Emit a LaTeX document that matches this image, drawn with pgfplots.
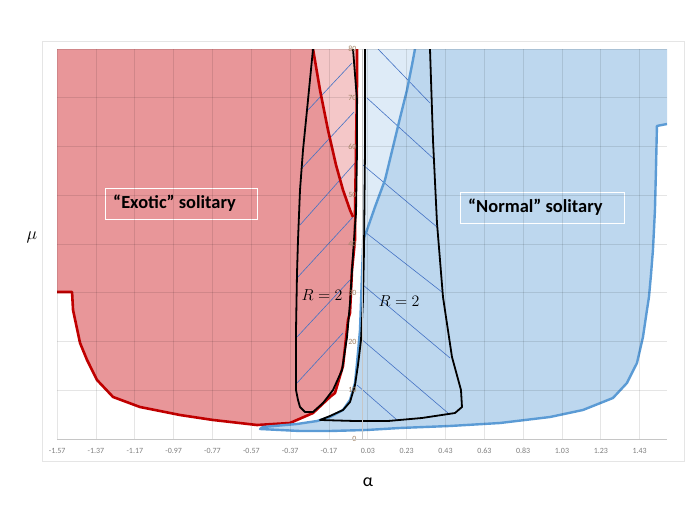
\RequirePackage{fix-cm}
\documentclass[border=0pt]{standalone}
\usepackage{fontspec}
\setmainfont{Carlito}
\usepackage{pgfplots}
\pgfplotsset{compat=1.18}
\definecolor{redfill}{RGB}{232,150,153}
\definecolor{pinkfill}{RGB}{244,199,200}
\definecolor{redline}{RGB}{192,0,0}
\definecolor{bluefill}{RGB}{189,215,238}
\definecolor{lbluefill}{RGB}{222,235,247}
\definecolor{blueline}{RGB}{91,155,213}
\definecolor{hatch}{RGB}{68,114,196}
\definecolor{ytcol}{RGB}{160,130,100}
\definecolor{xtcol}{RGB}{125,125,125}
\begin{document}
\begin{tikzpicture}
\useasboundingbox (0,0) rectangle (700bp,525bp);
\draw[gray!20, line width=0.8bp] (42bp,64bp) rectangle (684bp,484bp);
\begin{axis}[
  at={(57bp,86bp)}, anchor=south west,
  scale only axis, width=610bp, height=390bp,
  xmin=-1.5708, xmax=1.5708, ymin=0, ymax=80,
  enlargelimits=false,
  axis on top,
  axis line style={draw=none},
  major tick length=0pt,
  grid=major,
  grid style={black, opacity=0.10, line width=0.8bp},
  xtick={-1.57,-1.37,-1.17,-0.97,-0.77,-0.57,-0.37,-0.17,0.03,0.23,0.43,0.63,0.83,1.03,1.23,1.43},
  xticklabels={-1.57,-1.37,-1.17,-0.97,-0.77,-0.57,-0.37,-0.17,0.03,0.23,0.43,0.63,0.83,1.03,1.23,1.43},
  ytick={0,10,20,30,40,50,60,70,80},
  /pgf/number format/assume math mode=true,
  xticklabel style={font=\fontsize{8}{9}\selectfont, text=xtcol, yshift=-6bp},
  yticklabel style={font=\fontsize{8}{9}\selectfont, text=ytcol, xshift=303bp},
]
% dark red region
\addplot[fill=redfill, draw=none] coordinates {
 (-1.5708,80) (-1.5708,30.15) (-1.4933,30.15) (-1.4882,26.46) (-1.4521,19.69) (-1.4161,16.21)
 (-1.3646,12.10) (-1.2822,8.62) (-1.1432,6.56) (-0.9372,4.92) (-0.7673,3.90) (-0.5407,2.87)
 (-0.3708,3.28) (-0.2523,5.33) (-0.1648,8.62) (-0.1390,9.44) (-0.0978,15.0) (-0.0721,24.41)
 (-0.0618,25.85) (-0.0515,34.67) (-0.0360,40.82) (-0.0463,45.54)
 (-0.0618,46.97) (-0.0978,51.08) (-0.1339,56.21) (-0.1751,63.38) (-0.2163,71.59) (-0.2523,80)
} -- cycle;
% pink triangle
\addplot[fill=pinkfill, draw=none] coordinates {
 (-0.2523,80) (-0.2163,71.59) (-0.1751,63.38) (-0.1339,56.21) (-0.0978,51.08) (-0.0618,46.97)
 (-0.0463,45.54) (-0.0360,46.4) (-0.0309,59.3) (-0.0257,73.0) (-0.0257,80)
} -- cycle;
% dark blue region
\addplot[fill=bluefill, draw=none] coordinates {
 (1.5708,80) (1.5708,64.62) (1.5190,64.21) (1.5139,55.18) (1.5087,46.97) (1.4984,38.77)
 (1.4882,33.64) (1.4779,29.13) (1.4676,26.46) (1.4470,20.92) (1.4161,15.59) (1.3646,11.49)
 (1.2925,8.41) (1.1380,5.95) (0.9681,4.51) (0.7106,3.28) (0.4531,2.67) (0.1957,2.26)
 (0.0257,1.85) (-0.1648,1.64) (-0.3193,1.64) (-0.5252,2.05)
 (-0.5098,2.46) (-0.3347,3.08) (-0.2317,3.69) (-0.1648,4.51) (-0.0978,5.95) (-0.0618,8.00)
 (-0.0360,11.49) (-0.0257,15.59) (-0.0103,22.36) (0.0051,39.38) (0.0051,40.82)
 (0.0257,42.87) (0.0669,47.59) (0.1184,53.13) (0.1596,59.90) (0.1957,65.85) (0.2317,71.59)
 (0.2575,76.72) (0.2729,80)
} -- cycle;
% light blue triangle
\addplot[fill=lbluefill, draw=none] coordinates {
 (0.0103,80) (0.0051,40.82) (0.0257,42.87) (0.0669,47.59) (0.1184,53.13) (0.1596,59.90)
 (0.1957,65.85) (0.2317,71.59) (0.2575,76.72) (0.2729,80)
} -- cycle;
% hatching left
\addplot[hatch, line width=0.6bp] coordinates {(-0.3347,11.49) (-0.0978,21.74)};
\addplot[hatch, line width=0.6bp] coordinates {(-0.3347,20.92) (-0.0618,32.62)};
\addplot[hatch, line width=0.6bp] coordinates {(-0.3347,33.03) (-0.0463,45.54)};
\addplot[hatch, line width=0.6bp] coordinates {(-0.3193,43.90) (-0.0360,56.62)};
\addplot[hatch, line width=0.6bp] coordinates {(-0.3090,55.59) (-0.0412,67.08)};
\addplot[hatch, line width=0.6bp] coordinates {(-0.2781,67.49) (-0.0515,77.13)};
% hatching right
\addplot[hatch, line width=0.6bp] coordinates {(0.0824,80) (0.3502,68.92)};
\addplot[hatch, line width=0.6bp] coordinates {(0.0257,69.95) (0.3759,57.23)};
\addplot[hatch, line width=0.6bp] coordinates {(0.0051,56.21) (0.3862,43.49)};
\addplot[hatch, line width=0.6bp] coordinates {(0.0154,42.46) (0.4119,30.15)};
\addplot[hatch, line width=0.6bp] coordinates {(0.0051,31.59) (0.4531,16.62)};
\addplot[hatch, line width=0.6bp] coordinates {(-0.0103,20.72) (0.4428,5.33)};
\addplot[hatch, line width=0.6bp] coordinates {(-0.0257,11.08) (0.1802,3.90)};
% red boundary
\addplot[redline, line width=2.6bp, line join=round] coordinates {
 (-1.5708,30.15) (-1.4933,30.15) (-1.4882,26.46) (-1.4521,19.69) (-1.4161,16.21)
 (-1.3646,12.10) (-1.2822,8.62) (-1.1432,6.56) (-0.9372,4.92) (-0.7673,3.90) (-0.5407,2.87)
 (-0.3708,3.28) (-0.2523,5.33) (-0.1648,8.62) (-0.1390,9.44) (-0.0978,15.0) (-0.0721,24.41)
 (-0.0618,25.85) (-0.0515,34.67) (-0.0360,40.82) (-0.0360,46.4) (-0.0309,59.3) (-0.0257,73.0) (-0.0257,80)
};
\addplot[redline, line width=2.6bp, line join=round] coordinates {
 (-0.0463,45.54) (-0.0618,46.97) (-0.0978,51.08) (-0.1339,56.21) (-0.1751,63.38) (-0.2163,71.59) (-0.2523,80)
};
% blue boundary
\addplot[blueline, line width=2.4bp, line join=round] coordinates {
 (1.5708,64.62) (1.5190,64.21) (1.5139,55.18) (1.5087,46.97) (1.4984,38.77)
 (1.4882,33.64) (1.4779,29.13) (1.4676,26.46) (1.4470,20.92) (1.4161,15.59) (1.3646,11.49)
 (1.2925,8.41) (1.1380,5.95) (0.9681,4.51) (0.7106,3.28) (0.4531,2.67) (0.1957,2.26)
 (0.0257,1.85) (-0.1648,1.64) (-0.3193,1.64) (-0.5252,2.05)
 (-0.5098,2.46) (-0.3347,3.08) (-0.2317,3.69) (-0.1648,4.51) (-0.0978,5.95) (-0.0618,8.00)
 (-0.0360,11.49) (-0.0257,15.59) (-0.0103,22.36) (0.0051,39.38) (0.0051,40.82)
 (0.0257,42.87) (0.0669,47.59) (0.1184,53.13) (0.1596,59.90) (0.1957,65.85) (0.2317,71.59)
 (0.2575,76.72) (0.2729,80)
};
\addplot[blueline, line width=1bp] coordinates {(0.0103,40.82) (0.0103,80)};
% black R=2 contours
\addplot[black, line width=1.8bp, line join=round] coordinates {
 (-0.2523,80) (-0.2781,69.54) (-0.3038,59.28) (-0.3193,51.08) (-0.3296,40.82) (-0.3347,34.05)
 (-0.3399,22.36) (-0.3399,10.05) (-0.3296,8.00) (-0.3193,6.56) (-0.2935,5.54) (-0.2523,5.54)
 (-0.2008,7.38) (-0.1493,10.05) (-0.1030,14.15) (-0.0772,20.92) (-0.0618,27.90) (-0.0515,34.67)
 (-0.0412,40.82) (-0.0309,46.36) (-0.0257,59.28) (-0.0257,69.54) (-0.0463,80)
};
\addplot[black, line width=1.8bp, line join=round] coordinates {
 (0.0154,80) (0.0154,59.28) (0.0103,38.77) (0.0051,28.51) (-0.0051,20.31) (-0.0206,15.18)
 (-0.0360,11.08) (-0.0618,7.59) (-0.0978,5.95) (-0.1648,4.72) (-0.2163,3.90)
 (-0.0360,3.69) (0.1339,3.69) (0.3090,4.31) (0.4789,5.33) (0.5149,6.56) (0.5098,10.05)
 (0.4634,16.82) (0.4171,29.13) (0.3862,44.31) (0.3656,61.33) (0.3502,80)
};
% boxes and labels
\draw[white, line width=0.9bp] (axis cs:-1.3234,45.13) rectangle (axis cs:-0.5407,51.49);
\node[anchor=west, inner sep=0pt, font=\fontsize{18.5}{20}\selectfont\bfseries] at (axis cs:-1.2822,48.31) {“Exotic” solitary};
\draw[white, line width=0.9bp] (axis cs:0.5046,44.31) rectangle (axis cs:1.3491,50.67);
\node[anchor=west, inner sep=0pt, font=\fontsize{18.5}{20}\selectfont\bfseries] at (axis cs:0.5458,47.49) {“Normal” solitary};
\node[inner sep=0pt, font=\fontsize{16}{18}\selectfont] at (axis cs:-0.206,29.5) {$R=2$};
\node[inner sep=0pt, font=\fontsize{16}{18}\selectfont] at (axis cs:0.1905,28.3) {$R=2$};
\end{axis}
\draw[gray!45, line width=0.8bp] (57bp,86bp) -- (667bp,86bp);
\draw[gray!45, line width=0.8bp] (362bp,86bp) -- (362bp,476bp);
\node[font=\fontsize{18}{20}\selectfont] at (32bp,288bp) {$\mu$};
\node[font=\fontsize{18}{20}\selectfont] at (368bp,43bp) {α};
\end{tikzpicture}
\end{document}
